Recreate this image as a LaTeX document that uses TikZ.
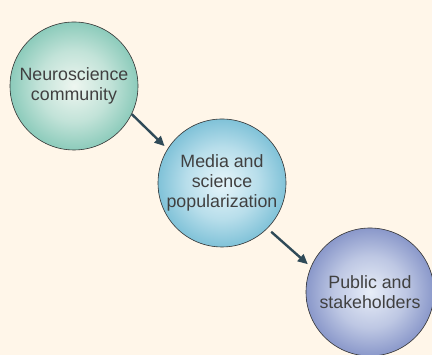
\documentclass[tikz,border=0pt]{standalone}
\usepackage{fontspec}
\setmainfont{Liberation Sans}
\usetikzlibrary{arrows.meta}

\definecolor{paper}{HTML}{FFF6E9}
\definecolor{ink}{HTML}{404040}
\definecolor{arrowcol}{HTML}{2F4A58}
\definecolor{tealin}{HTML}{EEF6F0}
\definecolor{tealout}{HTML}{8CCBBB}
\definecolor{cyanin}{HTML}{E6F5FA}
\definecolor{cyanout}{HTML}{80C2D8}
\definecolor{bluein}{HTML}{E8EEF8}
\definecolor{blueout}{HTML}{8A98CA}
\colorlet{tealmid}{tealin!55!tealout}
\colorlet{cyanmid}{cyanin!55!cyanout}
\colorlet{bluemid}{bluein!55!blueout}

% soft spheres, light in the middle (the 25bp ring sits on the rim)
\pgfdeclareradialshading{tealball}{\pgfpoint{0bp}{0bp}}{color(0bp)=(tealin); color(14bp)=(tealmid); color(25bp)=(tealout); color(50bp)=(tealout)}
\pgfdeclareradialshading{cyanball}{\pgfpoint{0bp}{0bp}}{color(0bp)=(cyanin); color(14bp)=(cyanmid); color(25bp)=(cyanout); color(50bp)=(cyanout)}
\pgfdeclareradialshading{blueball}{\pgfpoint{0bp}{0bp}}{color(0bp)=(bluein); color(14bp)=(bluemid); color(25bp)=(blueout); color(50bp)=(blueout)}

\begin{document}
\begin{tikzpicture}[x=1pt,y=1pt,
    ball/.style={circle, draw=black!80, line width=0.6pt, minimum size=128pt, inner sep=0pt,
                 align=center, text=ink, font=\fontsize{17.8}{20}\selectfont},
    flow/.style={-{Triangle[length=10pt,width=9pt]}, line width=2.4pt, draw=arrowcol}]
  \fill[paper] (0,0) rectangle (432,355);
  \useasboundingbox (0,0) rectangle (432,355);

  \node[ball, shading=tealball] (neuro) at (74,269) {Neuroscience\\community};
  \node[ball, shading=cyanball] (media) at (222,172) {Media and\\science\\popularization};
  \node[ball, shading=blueball] (public) at (370,63) {Public and\\stakeholders};

  \draw[flow, shorten >=4pt] (neuro.-26) -- (media.148);
  \draw[flow, shorten <=5pt, shorten >=4pt] (media.-45) -- (public.157);
\end{tikzpicture}
\end{document}
